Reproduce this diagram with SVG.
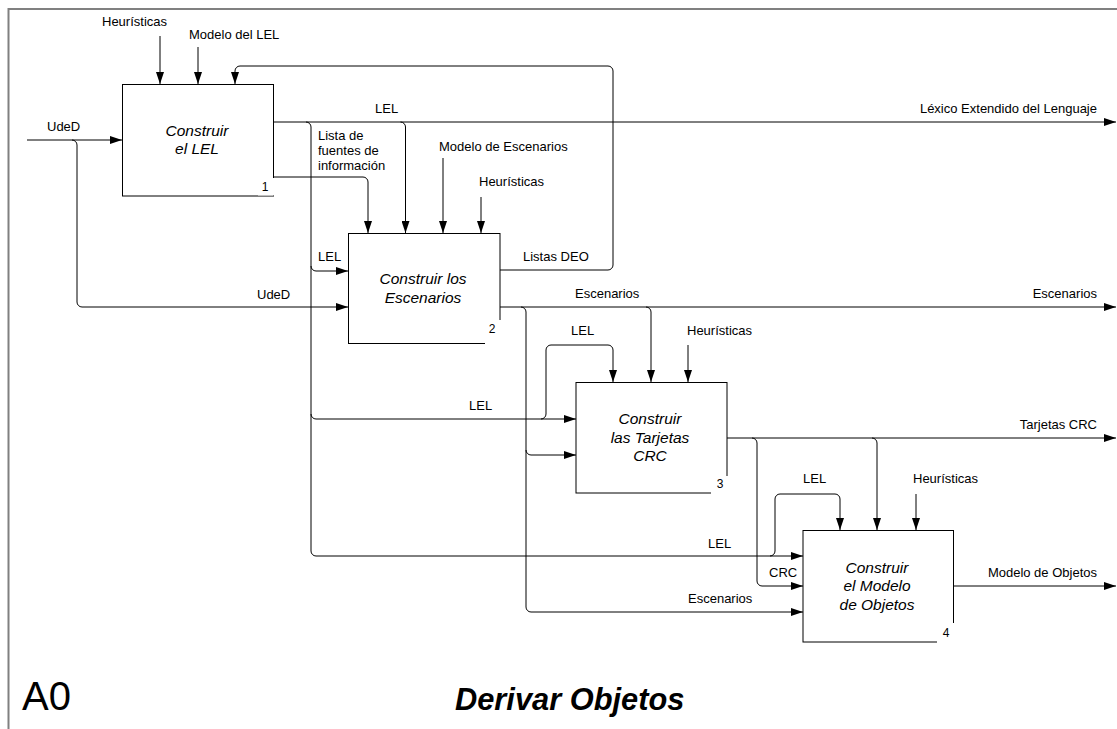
<svg xmlns="http://www.w3.org/2000/svg" width="1117" height="729" viewBox="0 0 1117 729">
<style>
.lbl{font-family:"Liberation Sans",Arial,sans-serif;font-size:13px;fill:#000}
.end{text-anchor:end}
.ttl{font-family:"Liberation Sans",Arial,sans-serif;font-size:15.5px;font-style:italic;text-anchor:middle;fill:#000}
.num{font-family:"Liberation Sans",Arial,sans-serif;font-size:12px;text-anchor:middle;fill:#000}
.box{fill:#fff;stroke:#000;stroke-width:1}
.c{fill:none;stroke:#000;stroke-width:1}
.ca{fill:none;stroke:#000;stroke-width:1;marker-end:url(#a)}
</style>
<defs>
<marker id="a" markerWidth="12" markerHeight="8" refX="12" refY="4" orient="auto" markerUnits="userSpaceOnUse"><path d="M0,0 L12,4 L0,8 z" fill="#000"/></marker>
</defs>
<rect width="1117" height="729" fill="#fff"/>
<g id="frame"><path d="M8.5,729 V9 H1117" fill="none" stroke="#808080" stroke-width="2"/></g>
<g id="connectors">
<path class="ca" d="M27,140 H122"/>
<path class="ca" d="M72,140 a5,5 0 0 1 5,5 V302 a5,5 0 0 0 5,5 H348"/>
<path class="ca" d="M273,122 H1116"/>
<path class="ca" d="M306,122 a5,5 0 0 1 5,5 V551 a5,5 0 0 0 5,5 H803"/>
<path class="ca" d="M311,266 a5,5 0 0 0 5,5 H348"/>
<path class="ca" d="M311,414 a5,5 0 0 0 5,5 H576"/>
<path class="ca" d="M400.5,122 a5,5 0 0 1 5,5 V233"/>
<path class="ca" d="M273,177 H363 a5,5 0 0 1 5,5 V233"/>
<path class="ca" d="M160,36 V84"/>
<path class="ca" d="M198,47 V84"/>
<path class="ca" d="M500,270 H608 a5,5 0 0 0 5,-5 V71 a5,5 0 0 0 -5,-5 H240 a5,5 0 0 0 -5,5 V84"/>
<path class="ca" d="M443,158 V233"/>
<path class="ca" d="M481,197 V233"/>
<path class="ca" d="M500,307 H1116"/>
<path class="ca" d="M646,307 a5,5 0 0 1 5,5 V382"/>
<path class="ca" d="M521,307 a5,5 0 0 1 5,5 V607 a5,5 0 0 0 5,5 H803"/>
<path class="ca" d="M526,450 a5,5 0 0 0 5,5 H576"/>
<path class="ca" d="M541,419 a5,5 0 0 0 5,-5 V350 a5,5 0 0 1 5,-5 H608 a5,5 0 0 1 5,5 V382"/>
<path class="ca" d="M688,345 V382"/>
<path class="ca" d="M727,438 H1116"/>
<path class="ca" d="M872,438 a5,5 0 0 1 5,5 V530"/>
<path class="ca" d="M752,438 a5,5 0 0 1 5,5 V581 a5,5 0 0 0 5,5 H803"/>
<path class="ca" d="M770,556 a5,5 0 0 0 5,-5 V499 a5,5 0 0 1 5,-5 H835 a5,5 0 0 1 5,5 V530"/>
<path class="ca" d="M916,494 V530"/>
<path class="ca" d="M953,586 H1116"/>
<text class="lbl" x="102" y="26">Heurísticas</text>
<text class="lbl" x="189" y="39">Modelo del LEL</text>
<text class="lbl" x="47" y="130.5">UdeD</text>
<text class="lbl" x="375" y="113">LEL</text>
<text class="lbl end" x="1097" y="113">Léxico Extendido del Lenguaje</text>
<text class="lbl" x="318" y="140">Lista de</text>
<text class="lbl" x="318" y="155">fuentes de</text>
<text class="lbl" x="318" y="170">información</text>
<text class="lbl" x="439" y="151">Modelo de Escenarios</text>
<text class="lbl" x="479" y="186">Heurísticas</text>
<text class="lbl" x="318" y="261">LEL</text>
<text class="lbl" x="523" y="261">Listas DEO</text>
<text class="lbl" x="257" y="299">UdeD</text>
<text class="lbl" x="575" y="298">Escenarios</text>
<text class="lbl end" x="1097" y="298">Escenarios</text>
<text class="lbl" x="571" y="335">LEL</text>
<text class="lbl" x="687" y="335">Heurísticas</text>
<text class="lbl" x="469" y="410">LEL</text>
<text class="lbl end" x="1097" y="429">Tarjetas CRC</text>
<text class="lbl" x="803" y="483">LEL</text>
<text class="lbl" x="913" y="483">Heurísticas</text>
<text class="lbl" x="708" y="548">LEL</text>
<text class="lbl" x="769" y="577">CRC</text>
<text class="lbl end" x="1097" y="577">Modelo de Objetos</text>
<text class="lbl" x="688" y="603">Escenarios</text>
</g>
<g id="node1">
<rect class="box" x="122.5" y="84.5" width="151" height="111.5"/>
<rect x="258" y="178" width="17" height="17.5" fill="#fff"/>
<text class="ttl" x="197" y="136">Construir</text>
<text class="ttl" x="197" y="154">el LEL</text>
<text class="num" x="265" y="191">1</text>
</g>
<g id="node2">
<rect class="box" x="348.5" y="233.5" width="151.5" height="110"/>
<rect x="485" y="320" width="16" height="24.5" fill="#fff"/>
<text class="ttl" x="423" y="284">Construir los</text>
<text class="ttl" x="423" y="302.5">Escenarios</text>
<text class="num" x="492" y="333">2</text>
</g>
<g id="node3">
<rect class="box" x="576" y="382.5" width="151" height="110.5"/>
<rect x="711" y="476" width="17" height="18" fill="#fff"/>
<text class="ttl" x="650" y="424">Construir</text>
<text class="ttl" x="650" y="442.5">las Tarjetas</text>
<text class="ttl" x="650" y="461">CRC</text>
<text class="num" x="720" y="488">3</text>
</g>
<g id="node4">
<rect class="box" x="803" y="530.5" width="150.5" height="111.5"/>
<rect x="937" y="623" width="17" height="20" fill="#fff"/>
<text class="ttl" x="877" y="572.5">Construir</text>
<text class="ttl" x="877" y="591">el Modelo</text>
<text class="ttl" x="877" y="609.5">de Objetos</text>
<text class="num" x="946" y="637">4</text>
</g>
<g id="title">
<text x="22" y="710" font-family="'Liberation Sans',Arial,sans-serif" font-size="40">A0</text>
<text x="455" y="710" font-family="'Liberation Sans',Arial,sans-serif" font-size="30.8" font-weight="bold" font-style="italic">Derivar Objetos</text>
</g>
</svg>
